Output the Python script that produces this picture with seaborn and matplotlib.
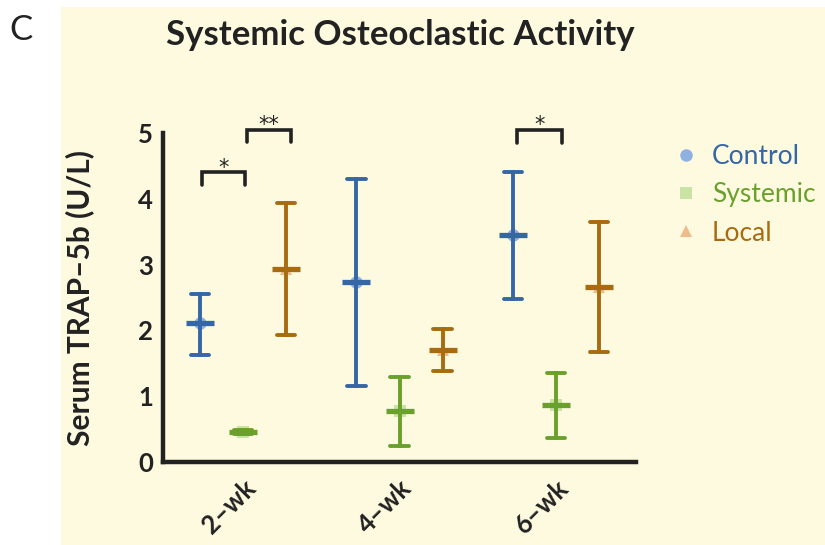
import matplotlib
matplotlib.use("Agg")
import matplotlib.pyplot as plt
import seaborn as sns
import pandas as pd
from matplotlib.patches import Rectangle

# ---- data ----
weeks = ["2–wk", "4–wk", "6–wk"]
groups = ["Control", "Systemic", "Local"]
# mean, lower, upper for each group across weeks
control_mean = [2.11, 2.74, 3.45]
control_low = [1.63, 1.16, 2.48]
control_high = [2.56, 4.30, 4.41]
systemic_mean = [0.46, 0.78, 0.86]
systemic_low = [0.43, 0.25, 0.37]
systemic_high = [0.49, 1.29, 1.35]
local_mean = [2.93, 1.70, 2.66]
local_low = [1.93, 1.38, 1.67]
local_high = [3.93, 2.02, 3.65]
y_ticks = [0, 1, 2, 3, 4, 5]

series = {
    "Control": (control_low, control_mean, control_high),
    "Systemic": (systemic_low, systemic_mean, systemic_high),
    "Local": (local_low, local_mean, local_high),
}
rows = []
for g, (lo, mn, hi) in series.items():
    for i, w in enumerate(weeks):
        for v in (lo[i], mn[i], hi[i]):
            rows.append({"week": w, "group": g, "value": v})
df = pd.DataFrame(rows)

dark = ["#3566a6", "#6aa12d", "#a86b10"]
light = ["#8fb1e2", "#c8e3a3", "#ecbd8a"]
bg = "#fefadf"
ink = "#222222"

sns.set_theme(style="white")
plt.rcParams["font.family"] = ["Lato", "DejaVu Sans"]

fig = plt.figure(figsize=(8.25, 5.45), dpi=100)
fig.patch.set_facecolor("white")
fig.patches.append(Rectangle((61 / 825, 0), 1 - 61 / 825, 1 - 7 / 545,
                             transform=fig.transFigure, facecolor=bg,
                             edgecolor="none", zorder=-10))
ax = fig.add_axes([163 / 825, 1 - 462 / 545, (636 - 163) / 825, (462 - 133) / 545])
ax.set_facecolor("none")
ax.set_zorder(5)

common = dict(data=df, x="week", y="value", hue="group", order=weeks,
              hue_order=groups, estimator="median", dodge=0.55,
              linestyle="none", ax=ax)

# light markers underneath
sns.pointplot(**common, palette=light, markers=["o", "s", "^"],
              errorbar=None, markersize=9, markeredgewidth=0, legend=True)
# dark error bars with caps
sns.pointplot(**common, palette=dark, markers="o", errorbar=("pi", 100),
              capsize=0.12, markersize=0, err_kws={"linewidth": 2.8},
              legend=False)
# dark mean lines
sns.pointplot(**common, palette=dark, markers="_", errorbar=None,
              markersize=20, markeredgewidth=3.8, legend=False)

ax.set_xlim(-0.511, 2.511)
ax.set_ylim(0, 5)
ax.set_yticks(y_ticks)
ax.set_xlabel("")
ax.set_ylabel("Serum TRAP–5b (U/L)", fontsize=21.5, fontweight="bold",
              color=ink)
ax.yaxis.set_label_coords(-0.146, 0.5)
for s in ["top", "right"]:
    ax.spines[s].set_visible(False)
for s in ["left", "bottom"]:
    ax.spines[s].set_linewidth(3.2)
    ax.spines[s].set_color(ink)
ax.tick_params(axis="both", which="major", length=5, width=3, color=ink,
               labelsize=18.5, labelcolor=ink, pad=2, direction="out")
ax.tick_params(axis="x", length=6, pad=4)
ax.set_xticks(range(len(weeks)))
ax.set_xticklabels(weeks, rotation=45, ha="right", rotation_mode="anchor",
                   fontweight="bold")
for t in ax.get_yticklabels():
    t.set_fontweight("bold")

# significance brackets
brackets = [(-0.262, 0.013, 4.41, 4.21, 4.38, "*"),
            (0.026, 0.307, 5.04, 4.86, 5.03, "**"),
            (1.751, 2.038, 5.04, 4.85, 5.03, "*")]
for x1, x2, ytop, ybot, ystar, lab in brackets:
    ax.plot([x1, x1, x2, x2], [ybot, ytop, ytop, ybot], color=ink,
            linewidth=2.6, clip_on=False, solid_joinstyle="miter")
    ax.text((x1 + x2) / 2, ystar, lab, ha="center", va="baseline",
            fontsize=15, color=ink, clip_on=False, family="DejaVu Sans")

# legend
handles, labels = ax.get_legend_handles_labels()
handles = handles[:3]
labels = labels[:3]
leg = ax.legend(handles, labels, loc="upper left", bbox_to_anchor=(1.063, 0.998),
                frameon=False, handlelength=0.7, handletextpad=0.65,
                labelspacing=0.5, fontsize=19, borderaxespad=0)
for txt, c in zip(leg.get_texts(), dark):
    txt.set_color(c)

fig.text(400 / 825, 1 - 35 / 545, "Systemic Osteoclastic Activity",
         ha="center", va="center", fontsize=25, fontweight="bold", color=ink)
fig.text(21 / 825, 1 - 30 / 545, "C", ha="center", va="center",
         fontsize=25, color=ink)

fig.savefig("out.png", dpi=100)
